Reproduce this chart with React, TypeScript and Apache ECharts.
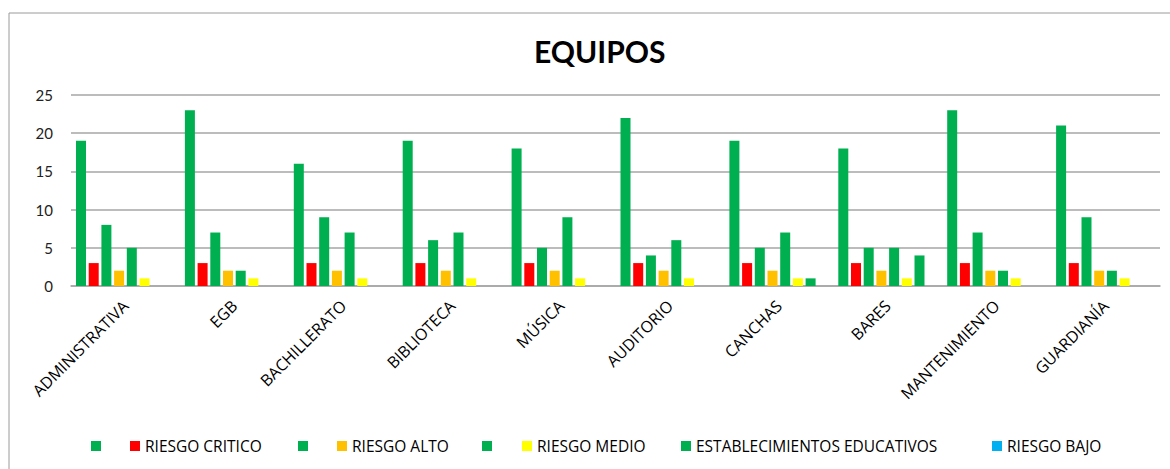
import React, { useEffect, useRef } from "react";
import * as echarts from "echarts";

const categories = [
  "ADMINISTRATIVA",
  "EGB",
  "BACHILLERATO",
  "BIBLIOTECA",
  "MÚSICA",
  "AUDITORIO",
  "CANCHAS",
  "BARES",
  "MANTENIMIENTO",
  "GUARDIANÍA",
];

const seriesNames = [
  " ",
  "RIESGO CRITICO",
  "  ",
  "RIESGO ALTO",
  "   ",
  "RIESGO MEDIO",
  "ESTABLECIMIENTOS EDUCATIVOS",
  "RIESGO BAJO",
];

const seriesColors = ["#00B050", "#FF0000", "#00B050", "#FFC000", "#00B050", "#FFFF00", "#00B050", "#00B0F0"];

const green1 = [19, 23, 16, 19, 18, 22, 19, 18, 23, 21];
const riesgoCritico = [3, 3, 3, 3, 3, 3, 3, 3, 3, 3];
const green2 = [8, 7, 9, 6, 5, 4, 5, 5, 7, 9];
const riesgoAlto = [2, 2, 2, 2, 2, 2, 2, 2, 2, 2];
const green3 = [5, 2, 7, 7, 9, 6, 7, 5, 2, 2];
const riesgoMedio = [1, 1, 1, 1, 1, 1, 1, 1, 1, 1];
const establecimientos = [null, null, null, null, null, null, 1, 4, null, null];
const riesgoBajo = [null, null, null, null, null, null, null, null, null, null];

const seriesValues = [green1, riesgoCritico, green2, riesgoAlto, green3, riesgoMedio, establecimientos, riesgoBajo];

const yTicks = { min: 0, max: 25, interval: 5 };

export default function App() {
  const ref = useRef<HTMLDivElement>(null);

  useEffect(() => {
    if (!ref.current) return;
    const chart = echarts.init(ref.current, null, { renderer: "svg" });
    const legendLeft = [91, 130, 298, 337, 482, 522, 681, 992];
    const font = "'Open Sans', Lato, sans-serif";
    const titleFont = "Lato, 'Open Sans', sans-serif";

    chart.setOption({
      animation: false,
      backgroundColor: "#ffffff",
      title: {
        text: "EQUIPOS",
        left: 529,
        top: 31,
        textStyle: { fontFamily: titleFont, fontWeight: "bold", fontSize: 30, color: "#000" },
      },
      legend: seriesNames.map((name, i) => ({
        data: [name],
        left: legendLeft[i],
        top: 438,
        icon: "rect",
        itemWidth: 10,
        itemHeight: 10,
        padding: 0,
        selectedMode: false,
        textStyle: { fontFamily: font, fontSize: 15.5, color: "#000", padding: [0, 0, 0, 0] },
      })),
      grid: { left: 71, right: 10, top: 95, bottom: 183, containLabel: false },
      xAxis: {
        type: "category",
        data: categories,
        axisLine: { show: true, lineStyle: { color: "#a6a6a6", width: 1.5 } },
        axisTick: { show: false },
        axisLabel: {
          interval: 0,
          rotate: 45,
          margin: 17,
          fontFamily: font,
          fontSize: 16,
          color: "#000",
        },
      },
      yAxis: {
        type: "value",
        min: yTicks.min,
        max: yTicks.max,
        interval: yTicks.interval,
        axisLine: { show: false },
        axisTick: { show: false },
        splitLine: { lineStyle: { color: "#a6a6a6", width: 1.5 } },
        axisLabel: { margin: 18, fontFamily: titleFont, fontSize: 15, color: "#222" },
      },
      graphic: [
        { type: "line", shape: { x1: 9, y1: 13, x2: 1170, y2: 13 }, style: { stroke: "#9a9a9a", lineWidth: 1 } },
        { type: "line", shape: { x1: 9, y1: 13, x2: 9, y2: 469 }, style: { stroke: "#9a9a9a", lineWidth: 1 } },
      ],
      series: seriesNames.map((name, i) => ({
        name,
        type: "bar",
        data: seriesValues[i],
        barWidth: 10,
        barGap: "27%",
        itemStyle: { color: seriesColors[i] },
      })),
    });

    return () => chart.dispose();
  }, []);

  return (
    <div
      ref={ref}
      style={{ position: "absolute", left: 0, top: 0, width: 1170, height: 469 }}
    />
  );
}
